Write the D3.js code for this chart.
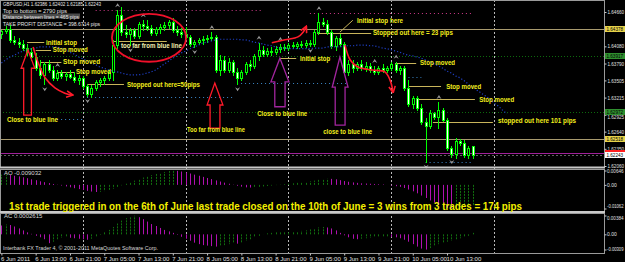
<!DOCTYPE html>
<html>
<head>
<meta charset="utf-8">
<script src="https://cdn.jsdelivr.net/npm/d3@7.9.0/dist/d3.min.js"></script>
<style>
  html, body { margin: 0; padding: 0; background: #000; }
  svg { display: block; }
  text { font-family: "Liberation Sans", "DejaVu Sans", sans-serif; }
</style>
</head>
<body>
<svg id="chart" width="625" height="262"></svg>
<script>
// GBPUSD H1, one bar per hour from 6 Jun 2011 05:00: [open, high, low, close]
const candles = [
  [1.6429,1.6436,1.6422,1.6434],[1.6434,1.6442,1.6431,1.6437],[1.6437,1.6444,1.6415,1.6419],[1.6419,1.6425,1.6412,1.6415],
  [1.6415,1.6422,1.6407,1.6412],[1.6412,1.6419,1.6402,1.6405],[1.6405,1.6412,1.6393,1.6398],[1.6398,1.6405,1.6385,1.6390],
  [1.6390,1.6397,1.6368,1.6371],[1.6371,1.6385,1.6355,1.6360],[1.6360,1.6382,1.6344,1.6378],[1.6378,1.6385,1.6365,1.6368],
  [1.6368,1.6375,1.6351,1.6355],[1.6355,1.6368,1.6351,1.6363],[1.6363,1.6368,1.6355,1.6358],[1.6358,1.6365,1.6351,1.6361],
  [1.6361,1.6368,1.6355,1.6356],[1.6356,1.6365,1.6348,1.6351],[1.6351,1.6360,1.6344,1.6355],[1.6355,1.6358,1.6338,1.6341],
  [1.6341,1.6344,1.6324,1.6328],[1.6328,1.6343,1.6323,1.6338],[1.6338,1.6351,1.6334,1.6348],[1.6348,1.6355,1.6341,1.6351],
  [1.6351,1.6358,1.6344,1.6355],[1.6355,1.6368,1.6351,1.6365],[1.6365,1.6419,1.6351,1.6410],[1.6410,1.6469,1.6405,1.6461],
  [1.6461,1.6474,1.6427,1.6432],[1.6432,1.6444,1.6424,1.6429],[1.6429,1.6439,1.6410,1.6436],[1.6436,1.6439,1.6422,1.6425],
  [1.6425,1.6449,1.6422,1.6446],[1.6446,1.6452,1.6436,1.6442],[1.6442,1.6452,1.6436,1.6439],[1.6439,1.6444,1.6427,1.6431],
  [1.6431,1.6441,1.6427,1.6437],[1.6437,1.6446,1.6431,1.6441],[1.6441,1.6449,1.6436,1.6444],[1.6444,1.6452,1.6439,1.6449],
  [1.6449,1.6456,1.6432,1.6436],[1.6436,1.6442,1.6427,1.6432],[1.6432,1.6439,1.6424,1.6429],[1.6429,1.6441,1.6422,1.6424],
  [1.6424,1.6427,1.6409,1.6412],[1.6412,1.6419,1.6407,1.6415],[1.6415,1.6422,1.6412,1.6419],[1.6419,1.6425,1.6412,1.6420],
  [1.6420,1.6427,1.6415,1.6422],[1.6422,1.6432,1.6419,1.6424],[1.6424,1.6427,1.6365,1.6368],[1.6368,1.6393,1.6360,1.6385],
  [1.6385,1.6392,1.6365,1.6368],[1.6368,1.6388,1.6365,1.6382],[1.6382,1.6385,1.6360,1.6365],[1.6365,1.6371,1.6344,1.6355],
  [1.6355,1.6368,1.6351,1.6365],[1.6365,1.6382,1.6361,1.6378],[1.6378,1.6385,1.6368,1.6375],[1.6375,1.6395,1.6371,1.6392],
  [1.6392,1.6414,1.6385,1.6402],[1.6402,1.6409,1.6392,1.6395],[1.6395,1.6405,1.6392,1.6400],[1.6400,1.6407,1.6393,1.6398],
  [1.6398,1.6409,1.6395,1.6404],[1.6404,1.6412,1.6398,1.6407],[1.6407,1.6412,1.6402,1.6405],[1.6405,1.6414,1.6402,1.6410],
  [1.6410,1.6415,1.6405,1.6409],[1.6409,1.6415,1.6405,1.6412],[1.6412,1.6417,1.6407,1.6410],[1.6410,1.6419,1.6407,1.6414],
  [1.6414,1.6419,1.6409,1.6412],[1.6412,1.6436,1.6409,1.6432],[1.6432,1.6464,1.6429,1.6449],[1.6449,1.6456,1.6442,1.6446],
  [1.6446,1.6452,1.6429,1.6432],[1.6432,1.6436,1.6405,1.6409],[1.6409,1.6425,1.6402,1.6422],[1.6422,1.6429,1.6409,1.6412],
  [1.6412,1.6415,1.6361,1.6365],[1.6365,1.6385,1.6360,1.6378],[1.6378,1.6385,1.6365,1.6371],[1.6371,1.6382,1.6368,1.6378],
  [1.6378,1.6385,1.6368,1.6371],[1.6371,1.6382,1.6366,1.6375],[1.6375,1.6380,1.6365,1.6368],[1.6368,1.6375,1.6361,1.6365],
  [1.6365,1.6375,1.6361,1.6371],[1.6371,1.6378,1.6365,1.6368],[1.6368,1.6375,1.6365,1.6371],[1.6371,1.6382,1.6368,1.6378],
  [1.6378,1.6382,1.6365,1.6368],[1.6368,1.6375,1.6361,1.6371],[1.6371,1.6375,1.6334,1.6338],[1.6338,1.6351,1.6307,1.6311],
  [1.6311,1.6324,1.6304,1.6321],[1.6321,1.6324,1.6300,1.6304],[1.6304,1.6311,1.6277,1.6280],[1.6280,1.6287,1.6213,1.6273],
  [1.6273,1.6300,1.6270,1.6295],[1.6295,1.6297,1.6285,1.6289],[1.6289,1.6314,1.6270,1.6300],[1.6300,1.6304,1.6282,1.6284],
  [1.6284,1.6287,1.6233,1.6236],[1.6236,1.6240,1.6221,1.6226],[1.6226,1.6253,1.6219,1.6248],[1.6248,1.6252,1.6241,1.6245],
  [1.6245,1.6250,1.6221,1.6225],[1.6225,1.6240,1.6219,1.6236],[1.6239,1.6240,1.6219,1.6224]
];

// Alligator jaw (blue dotted), shifted 8 bars into the future
const jaw = [
  1.6380,1.6385,1.6390,1.6393,1.6397,1.6400,1.6402,1.6404,1.6405,1.6407,
  1.6407,1.6407,1.6407,1.6407,1.6405,1.6402,1.6398,1.6395,1.6390,1.6387,
  1.6383,1.6380,1.6377,1.6373,1.6371,1.6368,1.6366,1.6365,1.6363,1.6361,
  1.6360,1.6360,1.6360,1.6361,1.6363,1.6365,1.6368,1.6373,1.6378,1.6383,
  1.6388,1.6392,1.6397,1.6400,1.6404,1.6407,1.6410,1.6414,1.6415,1.6417,
  1.6419,1.6420,1.6420,1.6420,1.6420,1.6420,1.6419,1.6419,1.6417,1.6415,
  1.6414,1.6412,1.6410,1.6409,1.6407,1.6405,1.6405,1.6404,1.6404,1.6404,
  1.6404,1.6404,1.6404,1.6405,1.6405,1.6405,1.6407,1.6407,1.6407,1.6407,
  1.6409,1.6409,1.6409,1.6410,1.6410,1.6410,1.6409,1.6409,1.6407,1.6405,
  1.6404,1.6402,1.6400,1.6398,1.6395,1.6393,1.6392,1.6390,1.6388,1.6385,
  1.6382,1.6378,1.6375,1.6371,1.6366,1.6363,1.6358,1.6355,1.6350,1.6344,
  1.6339,1.6334,1.6329,1.6324,1.6319,1.6312,1.6307,1.6300,1.6294
];

const aoValues = [
  0.0046,0.0046,0.0044,0.0041,0.0038,0.0034,0.0030,0.0025,0.0021,0.0016,
  0.0012,0.0008,0.0004,0.0001,-0.0003,-0.0007,-0.0011,-0.0015,-0.0019,-0.0023,
  -0.0027,-0.0030,-0.0032,-0.0031,-0.0028,-0.0024,-0.0017,-0.0009,-0.0002,0.0005,
  0.0012,0.0019,0.0026,0.0033,0.0039,0.0044,0.0049,0.0054,0.0058,0.0062,
  0.0065,0.0063,0.0060,0.0056,0.0051,0.0046,0.0041,0.0036,0.0031,0.0026,
  0.0020,0.0015,0.0010,0.0005,0.0001,-0.0004,-0.0008,-0.0011,-0.0012,-0.0011,
  -0.0009,-0.0007,-0.0005,-0.0003,-0.0001,0.0001,0.0003,0.0005,0.0007,0.0009,
  0.0011,0.0013,0.0016,0.0019,0.0023,0.0026,0.0028,0.0027,0.0025,0.0021,
  0.0017,0.0014,0.0011,0.0009,0.0007,0.0006,0.0005,0.0004,0.0003,0.0002,
  0.0000,-0.0003,-0.0006,-0.0009,-0.0014,-0.0021,-0.0029,-0.0038,-0.0048,-0.0059,
  -0.0070,-0.0080,-0.0089,-0.0097,-0.0103,-0.0106,-0.0104,-0.0101,-0.0098,-0.0094,
  -0.0090
];

const acValues = [
  0.0018,0.0020,0.0019,0.0016,0.0012,0.0008,0.0004,0.0001,-0.0003,-0.0006,
  -0.0010,-0.0018,-0.0015,-0.0010,-0.0007,-0.0006,-0.0007,-0.0008,-0.0009,-0.0010,
  -0.0011,-0.0009,-0.0005,-0.0001,0.0004,0.0009,0.0015,0.0022,0.0028,0.0033,
  0.0036,0.0038,0.0035,0.0031,0.0026,0.0021,0.0017,0.0013,0.0009,0.0006,
  0.0003,-0.0001,-0.0005,-0.0009,-0.0013,-0.0017,-0.0020,-0.0022,-0.0023,-0.0024,
  -0.0025,-0.0024,-0.0022,-0.0020,-0.0018,-0.0019,-0.0017,-0.0013,-0.0010,-0.0006,
  -0.0003,0.0000,0.0002,0.0003,0.0004,0.0004,0.0005,0.0005,0.0006,0.0006,
  0.0007,0.0008,0.0010,0.0012,0.0014,0.0015,0.0014,0.0012,0.0008,0.0003,
  -0.0002,-0.0006,-0.0009,-0.0010,-0.0009,-0.0008,-0.0007,-0.0006,-0.0005,-0.0004,
  -0.0004,-0.0005,-0.0006,-0.0008,-0.0011,-0.0015,-0.0020,-0.0025,-0.0029,-0.0031,
  -0.0028,-0.0024,-0.0020,-0.0017,-0.0015,-0.0013,-0.0010,-0.0008,-0.0006,-0.0003,
  0.0003
];

const fractalUp = [13, 27, 33, 49, 60, 65, 74, 87, 92, 102];
const fractalDown = [10, 20, 30, 45, 55, 72, 99, 105];

const priceTicks = [1.64660, 1.64080, 1.63790, 1.63505, 1.63215, 1.62925, 1.62640, 1.62350, 1.62060];
const aoTicks = [0.00646, 0, -0.01062];
const aoTickLabels = ['0.00646', '0.00', '-0.01062'];
const acTicks = [0.00384, 0, -0.00309];
const acTickLabels = ['0.00384', '0.00', '-0.00309'];

// hours after the first bar, and their labels
const timeTickHours = [0, 8, 16, 24, 32, 40, 48, 56, 64, 72, 80, 88, 96, 104];
const timeTickLabels = ['6 Jun 2011', '6 Jun 13:00', '6 Jun 21:00', '7 Jun 05:00', '7 Jun 13:00', '7 Jun 21:00',
  '8 Jun 05:00', '8 Jun 13:00', '8 Jun 21:00', '9 Jun 05:00', '9 Jun 13:00', '9 Jun 21:00', '10 Jun 05:00', '10 Jun 13:00'];
const daySeparatorHours = [19, 43, 67, 91, 115];

const headerLines = ['GBPUSD,H1  1.62386 1.62402 1.62185 1.62243', 'Top to bottom = 2790 pips',
  'Distance between lines = 465 pips', 'TAKE PROFIT DISTANCE = 398.6714 pips'];

// horizontal levels on the price axis
const levelPrices = [1.64373, 1.63917, 1.62972, 1.62516, 1.62279, 1.62243];
const levelLabels = ['1.64378', '1.63917', '1.62972', '1.62518', '', '1.62243'];

// dotted support segments: [fromBar, toBar, price]
const supportSegments = [[13, 19, 1.6285], [20, 54, 1.6323], [55, 81, 1.6346], [95, 98, 1.6356], [99, 110, 1.6213]];
// take-profit dotted lines: [fromBar, toBar, price]
const takeProfitLines = [[22, 61, 1.6469], [72, 110, 1.6464]];

// annotation notes: [bar, price, text]
const notes = [
  [10.4, 1.6415, 'initial stop'], [12.0, 1.6402, 'Stop moved'], [14.4, 1.6382, 'Stop moved'],
  [17.4, 1.6365, 'Stop moved'], [29.3, 1.6343, 'Stopped out here=50pips'], [27.9, 1.6409, 'too far from blue line'],
  [1.3, 1.6285, 'Close to blue line'], [43.3, 1.6267, 'Too far from blue line'], [59.7, 1.6294, 'Close to blue line'],
  [75.1, 1.6265, 'close to blue line'], [69.7, 1.6388, 'Initial stop'], [83.0, 1.6452, 'Initial stop here'],
  [86.7, 1.6431, 'Stopped out here = 23 pips'], [97.7, 1.6380, 'Stop moved'], [103.8, 1.6341, 'Stop moved'],
  [111.5, 1.6319, 'Stop moved'], [115.9, 1.6282, 'stopped out here 101 pips']
];
const noteWidths = [31, 35, 37, 35, 73, 61, 51, 58, 50, 49, 30, 46, 80, 35, 35, 35, 78];

// stop-level strokes next to the notes: [fromBar, toBar, price]
const stopLines = [
  [6, 10, 1.6415], [8, 11.6, 1.6402], [9, 14, 1.6382], [13, 17, 1.6365], [20, 28.6, 1.6344],
  [26, 38.6, 1.6417], [65, 68.8, 1.6388], [73.7, 86.3, 1.6431], [91.9, 96.8, 1.6380],
  [94.9, 102.6, 1.6341], [97, 110.5, 1.6319], [100.7, 114.7, 1.6280]
];
const pointerLine = [[79, 1.6432], [82, 1.6452]];

// hollow arrows: [tipBar, tipPrice, headLeft, headRight, shaftLeft, shaftRight, headBasePrice, bottomPrice]
const hollowArrows = [
  [6.2, 1.6402, 4.6, 7.8, 5.2, 7.0, 1.6371, 1.6292],
  [49.8, 1.6346, 48.0, 51.7, 48.7, 51.0, 1.6309, 1.6270],
  [65.0, 1.6388, 62.9, 67.1, 63.8, 66.2, 1.6348, 1.6306],
  [79.0, 1.6390, 77.2, 80.9, 77.9, 80.2, 1.6339, 1.6275]
];
const hollowArrowColors = ['#ff1a2a', '#ff1a2a', '#a2259e', '#a2259e'];

// freehand red curves: lists of [bar, price]
const redCurves = [
  [[7.4, 1.6407], [8.5, 1.6382], [10.2, 1.6355], [12.5, 1.6338], [14.8, 1.6329], [16.5, 1.6326]],
  [[63.1, 1.6414], [66.2, 1.6419], [69.2, 1.6424], [70.4, 1.6432], [71.1, 1.6441]],
  [[80.2, 1.6410], [81.4, 1.6385], [83.2, 1.6373], [86.5, 1.6368], [89.5, 1.6365], [90.7, 1.6351], [91.4, 1.6331]]
];
// red ellipse bounds: [leftBar, rightBar, topPrice, bottomPrice]
const ellipseBox = [25.8, 43.1, 1.6463, 1.6382];

const summary = '1st trade triggered in on the 6th of June last trade closed on the 10th of June = 3 wins from 3 trades  = 174 pips';

// ---------------------------------------------------------------------------
const svg = d3.select('#chart');
const plotRight = 604;
const t0 = Date.UTC(2011, 5, 6, 5);
const HOUR = 3600e3;
const barStep = 4.285;

const x = d3.scaleUtc().domain([t0, t0 + 141 * HOUR]).range([1.4, 1.4 + 141 * barStep]);
const xb = (i) => x(t0 + i * HOUR);
const y = d3.scaleLinear().domain([1.62060, 1.64660]).range([166, 12]);
const yAo = d3.scaleLinear().domain([-0.01062, 0.00646]).range([208.5, 170.5]);
const yAc = d3.scaleLinear().domain([-0.00309, 0.00384]).range([249.5, 215.5]);

svg.append('rect').attr('width', 625).attr('height', 262).attr('fill', '#000');

// day separators through all windows
svg.append('g').selectAll('line').data(daySeparatorHours).join('line')
  .attr('x1', (h) => Math.round(xb(h)) + 0.5).attr('x2', (h) => Math.round(xb(h)) + 0.5)
  .attr('y1', 0).attr('y2', 253)
  .attr('stroke', '#b8b8b8').attr('stroke-dasharray', '2,2');

// horizontal levels
const levelStroke = ['#a89a6e', '#0c6a0c', '#0c6a0c', '#a89a6e', '#a0209a', '#606060'];
const levelDash = [null, '1,2', '1,2', null, null, '2,2'];
svg.append('g').selectAll('line').data(levelPrices).join('line')
  .attr('x1', 0).attr('x2', plotRight)
  .attr('y1', (p) => Math.round(y(p)) + 0.5).attr('y2', (p) => Math.round(y(p)) + 0.5)
  .attr('stroke', (p, i) => levelStroke[i]).attr('stroke-dasharray', (p, i) => levelDash[i]);

// take profit and support dotted lines
svg.append('g').selectAll('line').data(takeProfitLines).join('line')
  .attr('x1', (d) => xb(d[0])).attr('x2', (d) => xb(d[1]))
  .attr('y1', (d) => Math.round(y(d[2])) + 0.5).attr('y2', (d) => Math.round(y(d[2])) + 0.5)
  .attr('stroke', '#d03a8a').attr('stroke-dasharray', '1,3');
svg.append('g').selectAll('line').data(supportSegments).join('line')
  .attr('x1', (d) => xb(d[0])).attr('x2', (d) => xb(d[1]))
  .attr('y1', (d) => Math.round(y(d[2])) + 0.5).attr('y2', (d) => Math.round(y(d[2])) + 0.5)
  .attr('stroke', '#3b86c8').attr('stroke-dasharray', '1,3');

// stop level strokes
svg.append('g').selectAll('line').data(stopLines).join('line')
  .attr('x1', (d) => xb(d[0])).attr('x2', (d) => xb(d[1]))
  .attr('y1', (d) => Math.round(y(d[2])) + 0.5).attr('y2', (d) => Math.round(y(d[2])) + 0.5)
  .attr('stroke', '#c8b45a');
svg.append('path').attr('d', d3.line().x((d) => xb(d[0])).y((d) => y(d[1]))(pointerLine))
  .attr('stroke', '#c8b45a').attr('fill', 'none');

// candles
const cg = svg.append('g');
candles.forEach(([o, h, l, c], i) => {
  const cx = Math.round(xb(i));
  cg.append('line').attr('x1', cx + 0.5).attr('x2', cx + 0.5)
    .attr('y1', Math.round(y(h))).attr('y2', Math.round(y(l)) + 1)
    .attr('stroke', '#00ff00');
  const top = Math.round(y(Math.max(o, c)));
  const bottom = Math.round(y(Math.min(o, c)));
  cg.append('rect').attr('x', cx - 0.5).attr('y', top + 0.5)
    .attr('width', 2).attr('height', Math.max(0, bottom - top))
    .attr('fill', c < o ? '#ffffff' : '#000000').attr('stroke', '#00ff00');
});

// alligator jaw
svg.append('path')
  .attr('d', d3.line().x((d, i) => xb(i)).y((d) => y(d))(jaw))
  .attr('fill', 'none').attr('stroke', '#1f3fc4').attr('stroke-width', 1.2).attr('stroke-dasharray', '1.2,2');

// fractal arrows
const arrowUp = (cx, cy) => `M${cx - 2.5},${cy + 2}L${cx},${cy - 2}L${cx + 2.5},${cy + 2}L${cx},${cy + 0.5}Z`;
const arrowDown = (cx, cy) => `M${cx - 2.5},${cy - 2}L${cx},${cy + 2}L${cx + 2.5},${cy - 2}L${cx},${cy - 0.5}Z`;
svg.append('g').selectAll('path.up').data(fractalUp).join('path')
  .attr('d', (i) => arrowUp(xb(i) + 0.5, y(candles[i][1]) - 5)).attr('fill', '#9a9a9a');
svg.append('g').selectAll('path.dn').data(fractalDown).join('path')
  .attr('d', (i) => arrowDown(xb(i) + 0.5, y(candles[i][2]) + 5)).attr('fill', '#9a9a9a');

// hollow arrows
svg.append('g').selectAll('path').data(hollowArrows).join('path')
  .attr('d', ([ti, tp, hl, hr, sl, sr, bp, btm]) => d3.line()([
    [xb(ti), y(tp)], [xb(hr), y(bp)], [xb(sr), y(bp)], [xb(sr), y(btm)],
    [xb(sl), y(btm)], [xb(sl), y(bp)], [xb(hl), y(bp)]]) + 'Z')
  .attr('fill', 'none').attr('stroke', (d, i) => hollowArrowColors[i]).attr('stroke-width', 1.3);

// red freehand curves with arrow heads
const defs = svg.append('defs');
defs.append('marker').attr('id', 'redhead').attr('viewBox', '0 0 10 10').attr('refX', 8).attr('refY', 5)
  .attr('markerWidth', 5).attr('markerHeight', 5).attr('orient', 'auto')
  .append('path').attr('d', 'M1,1L9,5L1,9').attr('fill', 'none').attr('stroke', '#ff1a2a').attr('stroke-width', 2);
const curve = d3.line().curve(d3.curveCatmullRom).x((d) => xb(d[0])).y((d) => y(d[1]));
svg.append('g').selectAll('path').data(redCurves).join('path')
  .attr('d', curve).attr('fill', 'none').attr('stroke', '#ff1a2a').attr('stroke-width', 1.6)
  .attr('marker-end', 'url(#redhead)');

// ellipse
svg.append('ellipse')
  .attr('cx', (xb(ellipseBox[0]) + xb(ellipseBox[1])) / 2)
  .attr('cy', (y(ellipseBox[2]) + y(ellipseBox[3])) / 2)
  .attr('rx', (xb(ellipseBox[1]) - xb(ellipseBox[0])) / 2)
  .attr('ry', (y(ellipseBox[3]) - y(ellipseBox[2])) / 2)
  .attr('fill', 'none').attr('stroke', '#f0102a').attr('stroke-width', 1.8);

// notes
svg.append('g').selectAll('text').data(notes).join('text')
  .attr('x', (d) => xb(d[0])).attr('y', (d) => y(d[1]) + 2.5)
  .attr('fill', (d, i) => (i === 5 ? '#f4f0b0' : '#f2ee1c'))
  .attr('font-size', 7).attr('font-weight', 'bold')
  .attr('textLength', (d, i) => noteWidths[i]).attr('lengthAdjust', 'spacingAndGlyphs')
  .text((d) => d[2]);

// header
svg.append('rect').attr('x', 2).attr('y', 13.5).attr('width', 78).attr('height', 5).attr('fill', '#4a4a4a');
const headerWidths = [98, 64, 76, 97];
svg.append('g').selectAll('text').data(headerLines).join('text')
  .attr('x', 3).attr('y', (d, i) => [6, 12.5, 18.5, 25.5][i])
  .attr('fill', '#e8e8e8').attr('font-size', 6)
  .attr('textLength', (d, i) => headerWidths[i]).attr('lengthAdjust', 'spacingAndGlyphs')
  .text((d) => d);

// indicator histograms
const histo = (values, scale, g) => {
  values.forEach((v, i) => {
    const rising = i === 0 ? v >= values[1] : v >= values[i - 1];
    const cx = Math.round(xb(i)) + 0.5;
    g.append('line').attr('x1', cx).attr('x2', cx)
      .attr('y1', scale(0)).attr('y2', scale(v))
      .attr('stroke', rising ? '#11700f' : '#b010b0')
      .attr('stroke-dasharray', rising ? '2,1' : null);
  });
};
histo(aoValues, yAo, svg.append('g'));
histo(acValues, yAc, svg.append('g'));

// window frames
[[0, 167], [169, 211], [213, 253]].forEach(([a, b]) => {
  svg.append('rect').attr('x', 0.5).attr('y', a + 0.5).attr('width', plotRight).attr('height', b - a)
    .attr('fill', 'none').attr('stroke', '#9a9a9a');
});
svg.append('line').attr('x1', 0).attr('x2', plotRight + 1).attr('y1', 167.5).attr('y2', 167.5).attr('stroke', '#c8c8c8').attr('stroke-width', 2);
svg.append('line').attr('x1', 0).attr('x2', plotRight + 1).attr('y1', 212).attr('y2', 212).attr('stroke', '#c8c8c8').attr('stroke-width', 2);

// axes
const styleAxis = (g) => {
  g.select('.domain').remove();
  g.selectAll('.tick line').attr('stroke', '#c8c8c8');
  g.selectAll('.tick text').attr('fill', '#e0e0e0').attr('font-size', 6)
    .attr('font-family', '"Liberation Sans", sans-serif');
};
const fitRight = (g) => g.selectAll('.tick text')
  .attr('font-size', (d, i, n) => (n[i].textContent.length > 7 ? 4.5 : 5))
  .attr('textLength', (d, i, n) => (n[i].textContent.length > 4 ? 16.5 : null))
  .attr('lengthAdjust', 'spacingAndGlyphs');
svg.append('g').attr('transform', `translate(${plotRight + 0.5},0)`)
  .call(d3.axisRight(y).tickValues(priceTicks).tickFormat(d3.format('.5f')).tickSize(2).tickPadding(1))
  .call(styleAxis).call(fitRight)
  .call((g) => g.selectAll('.tick text').filter((d) => d === 1.62925).attr('dy', '0.75em'));
svg.append('g').attr('transform', `translate(${plotRight + 0.5},0)`)
  .call(d3.axisRight(yAo).tickValues(aoTicks).tickFormat((d, i) => aoTickLabels[i]).tickSize(2).tickPadding(0.5))
  .call(styleAxis).call(fitRight)
  .call((g) => g.selectAll('.tick text').filter((d) => d < 0).attr('dy', '-0.2em'));
svg.append('g').attr('transform', `translate(${plotRight + 0.5},0)`)
  .call(d3.axisRight(yAc).tickValues(acTicks).tickFormat((d, i) => acTickLabels[i]).tickSize(2).tickPadding(0.5))
  .call(styleAxis).call(fitRight)
  .call((g) => g.selectAll('.tick text').filter((d) => d > 0).attr('dy', '0.8em'));
svg.append('g').attr('transform', 'translate(0,253.5)')
  .call(d3.axisBottom(x).tickValues(timeTickHours.map((h) => new Date(t0 + h * HOUR)))
    .tickFormat((d, i) => timeTickLabels[i]).tickSize(2).tickPadding(1))
  .call(styleAxis)
  .call((g) => g.selectAll('.tick text').attr('text-anchor', 'start').attr('dx', -1));

// level boxes on the price axis
const boxFill = ['#e6d24a', '#2f8f2f', '#2f8f2f', '#e6d24a', '#ff2020', '#ffffff'];
const boxes = svg.append('g').selectAll('g').data(levelPrices).join('g')
  .attr('transform', (p) => `translate(${plotRight + 1},${Math.round(y(p)) - 3})`);
boxes.append('rect').attr('width', 20).attr('height', 6).attr('fill', (p, i) => boxFill[i]);
boxes.filter((p, i) => levelLabels[i] !== '').append('text')
  .attr('x', 1.5).attr('y', 5).attr('font-size', 5).attr('fill', '#000')
  .attr('textLength', 16.5).attr('lengthAdjust', 'spacingAndGlyphs')
  .text((p) => levelLabels[levelPrices.indexOf(p)]);

// indicator captions and footer
svg.append('text').attr('x', 4).attr('y', 175).attr('font-size', 6).attr('fill', '#d8d8d8').text('AO -0.009032');
svg.append('text').attr('x', 4).attr('y', 218).attr('font-size', 6).attr('fill', '#d8d8d8').text('AC 0.0002615');
svg.append('text').attr('x', 3).attr('y', 250).attr('font-size', 6).attr('fill', '#d8d8d8')
  .attr('textLength', 155).attr('lengthAdjust', 'spacingAndGlyphs')
  .text('Interbank FX Trader 4, © 2001-2011 MetaQuotes Software Corp.');

svg.append('text').attr('x', 9).attr('y', 209.5)
  .attr('font-family', 'Lato, "Open Sans", sans-serif').attr('font-weight', 'bold').attr('font-size', 11.5)
  .attr('fill', '#f4f000').attr('textLength', 513).attr('lengthAdjust', 'spacingAndGlyphs')
  .text(summary);
</script>
</body>
</html>
